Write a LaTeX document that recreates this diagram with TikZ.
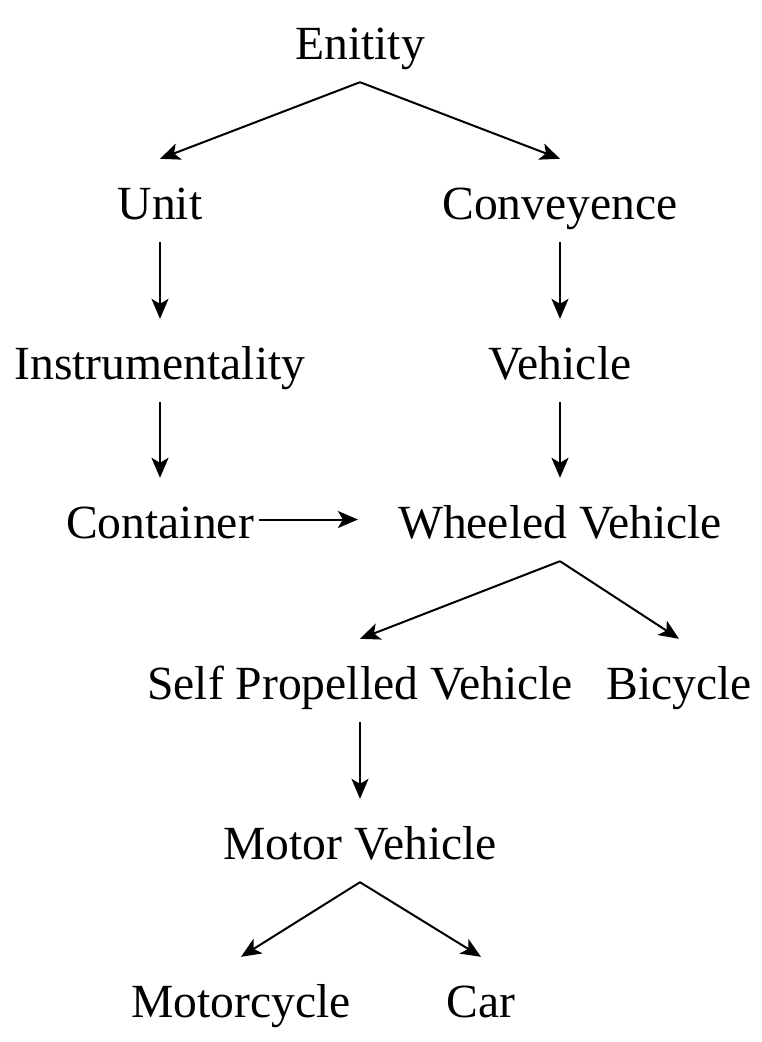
\documentclass[tikz,border=0pt]{standalone}
\usepackage{fontspec}
\setmainfont{Liberation Serif}
\usetikzlibrary{arrows.meta}
\tikzset{
  word/.style={font=\fontsize{47.6}{57}\selectfont, anchor=base, inner sep=0pt,
    text height=60pt, text depth=23pt},
  link/.style={->, line width=2pt}
}
\begin{document}
\begin{tikzpicture}[x=1pt, y=-1pt, >={Stealth[length=20pt,width=17pt,inset=5pt]}]
\useasboundingbox (0,0) rectangle (762,1042);
%% words
\node[word] (ent) at (360,59){Enitity};
\node[word] (unit) at (160,219){Unit};
\node[word] (conv) at (560,219){Conveyence};
\node[word] (instr) at (160,379){Instrumentality};
\node[word] (veh) at (560,379){Vehicle};
\node[word] (cont) at (160,538){Container};
\node[word] (wheel) at (560,538){Wheeled Vehicle};
\node[word] (self) at (360,699){Self Propelled Vehicle};
\node[word] (bicy) at (679,699){Bicycle};
\node[word] (motor) at (360,859){Motor Vehicle};
\node[word] (mcycle) at (241,1017){Motorcycle};
\node[word] (car) at (481,1017){Car};
%% links
\draw[link] (ent.south) -- (unit.north);
\draw[link] (ent.south) -- (conv.north);
\draw[link] (unit.south) -- (instr.north);
\draw[link] (conv.south) -- (veh.north);
\draw[link] (instr.south) -- (cont.north);
\draw[link] (veh.south) -- (wheel.north);
\draw[link, shorten <=5pt, shorten >=40pt] (cont.east) -- (wheel.west);
\draw[link] (wheel.south) -- (self.north);
\draw[link] (wheel.south) -- (bicy.north);
\draw[link] (self.south) -- (motor.north);
\draw[link] (motor.south) -- (mcycle.north);
\draw[link] (motor.south) -- (car.north);
\end{tikzpicture}
\end{document}
